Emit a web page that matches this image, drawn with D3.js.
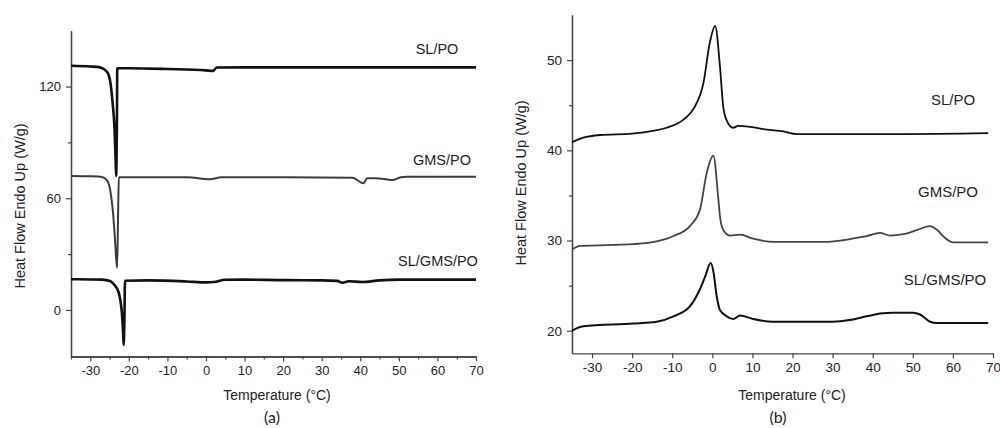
<!DOCTYPE html>
<html>
<head>
<meta charset="utf-8">
<script src="https://cdn.jsdelivr.net/npm/d3@7"></script>
<style>
  body { margin: 0; background: #fff; }
  text { font-family: "Liberation Sans", Arial, sans-serif; fill: #222; }
</style>
</head>
<body>
<script>
var width = 1000;
var height = 428;

// ---- panel (a) data: temperature (°C) and heat flow (W/g) ----
var tempA_slpo   = [-35, -30, -27.5, -25.7, -24.9, -24.2, -23.7, -23.45, -23.3, -23.1, -23.0, -20, -10, 0, 1.8, 2.8, 10, 40, 70];
var flowA_slpo   = [131.2, 130.8, 130.3, 128.0, 123.5, 111, 96.7, 82, 72, 100, 129.8, 129.8, 129.4, 128.7, 128.4, 130.2, 130.3, 130.3, 130.3];

var tempA_gmspo  = [-35, -30, -27, -25.6, -24.8, -24.1, -23.6, -23.3, -23.05, -22.8, -22.6, -20, -5, 1, 4, 20, 38, 40.8, 41.8, 44, 48.3, 50.5, 52, 70];
var flowA_gmspo  = [72.0, 71.8, 71.4, 69.5, 64, 52, 38, 28, 22.6, 50, 71.3, 71.3, 71.3, 70.2, 71.3, 71.3, 71.0, 68.0, 70.8, 70.8, 69.8, 71.3, 71.6, 71.6];

var tempA_slgms  = [-35, -30, -27, -24.9, -24, -22.7, -21.8, -21.5, -21.35, -21.15, -21.0, -15, -5, 0, 2, 5, 10, 20, 30, 34, 35.4, 37, 40.5, 45, 50, 70];
var flowA_slgms  = [16.5, 16.4, 16.3, 15.6, 14.0, 9.8, -1.8, -12, -18.8, -5, 15.7, 15.9, 15.3, 14.8, 15.0, 16.2, 16.3, 16.0, 15.9, 15.6, 14.6, 15.4, 15.0, 15.9, 16.3, 16.3];

// ---- panel (b) data ----
var tempB_slpo   = [-35, -32.2, -28, -20, -15.5, -11.4, -7.2, -4.7, -2.2, -0.6, 0.7, 1.9, 2.7, 3.6, 5.2, 6.4, 9.4, 13.6, 17.7, 21, 47, 68.8];
var flowB_slpo   = [40.9, 41.4, 41.7, 41.85, 42.1, 42.5, 43.4, 44.6, 47.5, 52.0, 53.8, 49.3, 44.9, 43.3, 42.5, 42.7, 42.6, 42.3, 42.1, 41.8, 41.8, 41.9];

var tempB_gmspo  = [-35, -33, -19.7, -13.9, -9.7, -5.6, -3.1, -1.4, 0.25, 1.5, 1.9, 2.7, 4.4, 6.9, 10.2, 15.2, 28, 32, 36, 38.5, 41.8, 44.3, 47.6, 51, 54.3, 56, 58, 60.1, 68.8];
var flowB_gmspo  = [29.0, 29.4, 29.6, 29.9, 30.5, 31.6, 33.4, 37.5, 39.4, 34.6, 32.7, 31.2, 30.55, 30.65, 30.2, 29.85, 29.85, 30.0, 30.3, 30.5, 30.85, 30.55, 30.7, 31.15, 31.6, 31.2, 30.3, 29.8, 29.8];

var tempB_slgms  = [-35, -32.2, -19.7, -13.9, -9.7, -5.6, -3.1, -1.8, -0.4, 0.25, 1.1, 1.9, 3.6, 5.2, 6.9, 10.2, 15.2, 30.2, 34.3, 38.5, 41.8, 45.1, 50.1, 51.8, 54.3, 56, 68.8];
var flowB_slgms  = [20.0, 20.5, 20.8, 21.0, 21.6, 22.7, 24.6, 26.0, 27.5, 26.6, 23.8, 22.3, 21.6, 21.3, 21.7, 21.3, 21.0, 21.0, 21.2, 21.6, 21.9, 22.0, 22.0, 21.8, 21.0, 20.85, 20.85];

var seriesNames = ["SL/PO", "GMS/PO", "SL/GMS/PO"];
var xTicks = [-30, -20, -10, 0, 10, 20, 30, 40, 50, 60, 70];
var xMinorA = [-35, -25, -15, -5, 5, 15, 25, 35, 45, 55, 65];
var yTicksA = [0, 60, 120];
var yMinorA = [30, 90];
var yTicksB = [20, 30, 40, 50];
var yMinorB = [25, 35, 45];

function zip(t, v) {
    return t.map(function(d, i) { return { t: d, v: v[i] }; });
}

var svg = d3.select("body")
            .append("svg")
            .attr("width", width)
            .attr("height", height);

function drawPanel(opt) {
    var x = d3.scaleLinear().domain([-35, 70]).range(opt.xRange);
    var y = d3.scaleLinear().domain(opt.yDomain).range(opt.yRange);
    var g = svg.append("g");

    // x axis
    g.append("g")
        .attr("transform", "translate(0," + opt.yRange[0] + ")")
        .call(d3.axisBottom(x).tickValues(xTicks).tickSize(5).tickSizeOuter(0).tickPadding(4)
              .tickFormat(function(d) { return d < 0 ? "-" + Math.abs(d) : d; }));
    if (opt.xMinor) {
        g.append("g")
            .attr("transform", "translate(0," + opt.yRange[0] + ")")
            .call(d3.axisBottom(x).tickValues(opt.xMinor).tickSize(3).tickSizeOuter(0).tickFormat(""));
    }

    // y axis
    g.append("g")
        .attr("transform", "translate(" + opt.xRange[0] + ",0)")
        .call(d3.axisLeft(y).tickValues(opt.yTicks).tickSize(5).tickSizeOuter(0).tickPadding(5));
    g.append("g")
        .attr("transform", "translate(" + opt.xRange[0] + ",0)")
        .call(d3.axisLeft(y).tickValues(opt.yMinor).tickSize(3).tickSizeOuter(0).tickFormat(""));

    g.selectAll(".domain").attr("stroke", "#444").attr("stroke-width", 1.3);
    g.selectAll(".tick line").attr("stroke", "#444").attr("stroke-width", 1.2);
    g.selectAll(".tick text").attr("font-size", opt.tickFont);

    var line = d3.line()
        .x(function(d) { return x(d.t); })
        .y(function(d) { return y(d.v); })
        .curve(d3.curveMonotoneX);

    opt.series.forEach(function(s, i) {
        g.append("path")
            .datum(s)
            .attr("d", line)
            .attr("fill", "none")
            .attr("stroke", opt.colors[i])
            .attr("stroke-width", opt.widths[i])
            .attr("stroke-linejoin", "round");

        g.append("text")
            .attr("x", opt.labelPos[i][0])
            .attr("y", opt.labelPos[i][1])
            .attr("text-anchor", "middle")
            .attr("font-size", opt.labelFont)
            .text(seriesNames[i]);
    });

    // axis titles
    g.append("text")
        .attr("x", opt.xTitleX)
        .attr("y", 400)
        .attr("text-anchor", "middle")
        .attr("font-size", 14)
        .text("Temperature (\u00B0C)");

    g.append("text")
        .attr("transform", "translate(" + opt.yTitle[0] + "," + opt.yTitle[1] + ") rotate(-90)")
        .attr("text-anchor", "middle")
        .attr("font-size", 14.5)
        .text("Heat Flow Endo Up (W/g)");

    g.append("text")
        .attr("x", opt.tagX)
        .attr("y", 423)
        .attr("text-anchor", "middle")
        .attr("font-size", 16)
        .style("font-family", "Lato, 'Open Sans', sans-serif")
        .text(opt.tag);
}

drawPanel({
    xRange: [71, 476],
    yDomain: [-25, 150],
    yRange: [356.5, 30.7],
    yTicks: yTicksA,
    yMinor: yMinorA,
    xMinor: xMinorA,
    tickFont: 13,
    labelFont: 14.5,
    series: [zip(tempA_slpo, flowA_slpo), zip(tempA_gmspo, flowA_gmspo), zip(tempA_slgms, flowA_slgms)],
    colors: ["#111", "#3c3c3c", "#111"],
    widths: [2.6, 2.0, 2.6],
    labelPos: [[437, 54], [442, 165], [438, 266]],
    xTitleX: 277,
    yTitle: [25, 206],
    tagX: 272,
    tag: "(a)"
});

drawPanel({
    xRange: [572, 993],
    yDomain: [17.5, 55],
    yRange: [353.3, 15],
    yTicks: yTicksB,
    yMinor: yMinorB,
    xMinor: null,
    tickFont: 13.5,
    labelFont: 15,
    series: [zip(tempB_slpo, flowB_slpo), zip(tempB_gmspo, flowB_gmspo), zip(tempB_slgms, flowB_slgms)],
    colors: ["#111", "#444", "#111"],
    widths: [1.8, 1.8, 2.0],
    labelPos: [[953, 105], [948, 197], [945, 285]],
    xTitleX: 792,
    yTitle: [526, 183],
    tagX: 778,
    tag: "(b)"
});
</script>
</body>
</html>
